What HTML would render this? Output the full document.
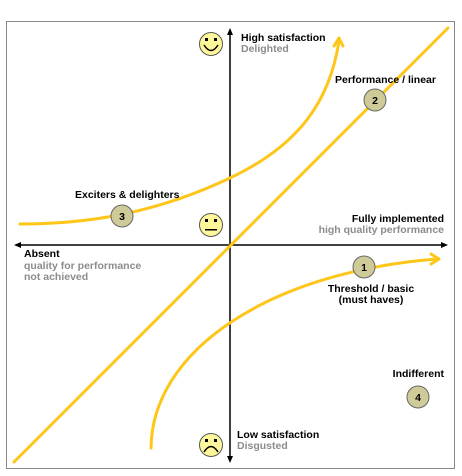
<!DOCTYPE html>
<html><head><style>
html,body{margin:0;padding:0;background:#fff;}
svg{display:block;}
text{font-family:"Liberation Sans",sans-serif;font-weight:bold;font-size:10.5px;}
.b{fill:#000}.g{fill:#8c8c8c}
</style></head><body>
<svg width="462" height="476" viewBox="0 0 462 476" xmlns="http://www.w3.org/2000/svg">
<rect x="6.5" y="21.5" width="448" height="447" fill="#fff" stroke="#888" stroke-width="1"/>
<line x1="230" y1="33" x2="230" y2="458" stroke="#000" stroke-width="1.5"/>
<polygon points="230,28 227,35 233,35" fill="#000"/>
<polygon points="230,463 227,456 233,456" fill="#000"/>
<line x1="19" y1="245" x2="443" y2="245" stroke="#000" stroke-width="1.5"/>
<polygon points="14,245 21,242 21,248" fill="#000"/>
<polygon points="448,245 441,242 441,248" fill="#000"/>
<g fill="none" stroke="#FFC61A" stroke-width="3" stroke-linecap="round">
<line x1="14" y1="462" x2="448" y2="28"/>
<path d="M20,224 C80,224 150,216 230,178 C300,145 330,100 339,41"/>
<polyline points="334,46 339,38 343,46" stroke-linejoin="round"/>
<path d="M151,448 C152,350 270,272 437,259"/>
<polyline points="431,254 439,259 431,264" stroke-linejoin="round"/>
</g>
<g fill="#CFCB98" stroke="#666" stroke-width="1">
<circle cx="375" cy="100" r="11"/>
<circle cx="122" cy="216" r="11"/>
<circle cx="364" cy="267" r="11"/>
<circle cx="418" cy="397" r="11"/>
</g>
<g text-anchor="middle">
<text x="375" y="104" class="b">2</text>
<text x="122" y="220" class="b">3</text>
<text x="364" y="271" class="b">1</text>
<text x="418" y="401" class="b">4</text>
</g>
<g fill="#FFF89A" stroke="#555" stroke-width="1">
<circle cx="211" cy="44" r="11.5"/>
<circle cx="211" cy="225" r="11.5"/>
<circle cx="211" cy="445" r="11.5"/>
</g>
<g fill="#000">
<rect x="205" y="38" width="3" height="3"/><rect x="214" y="38" width="3" height="3"/>
<rect x="205" y="219" width="3" height="3"/><rect x="214" y="219" width="3" height="3"/>
<rect x="205" y="439" width="3" height="3"/><rect x="214" y="439" width="3" height="3"/>
<rect x="205" y="229" width="12" height="1.5"/>
</g>
<path d="M204,45 Q211,56 218,45" fill="none" stroke="#000" stroke-width="1.5"/>
<path d="M204,452 Q211,441 218,452" fill="none" stroke="#000" stroke-width="1.5"/>
<text x="241" y="41" class="b">High satisfaction</text>
<text x="241" y="52" class="g">Delighted</text>
<text x="335" y="83" class="b">Performance / linear</text>
<text x="75" y="198" class="b">Exciters &amp; delighters</text>
<text x="444" y="222" class="b" text-anchor="end">Fully implemented</text>
<text x="444" y="233" class="g" text-anchor="end">high quality performance</text>
<text x="24" y="257" class="b">Absent</text>
<text x="24" y="269" class="g">quality for performance</text>
<text x="24" y="280" class="g">not achieved</text>
<text x="371" y="292" class="b" text-anchor="middle">Threshold / basic</text>
<text x="371" y="303" class="b" text-anchor="middle">(must haves)</text>
<text x="444" y="377" class="b" text-anchor="end">Indifferent</text>
<text x="237" y="438" class="b">Low satisfaction</text>
<text x="237" y="449" class="g">Disgusted</text>
</svg>
</body></html>
